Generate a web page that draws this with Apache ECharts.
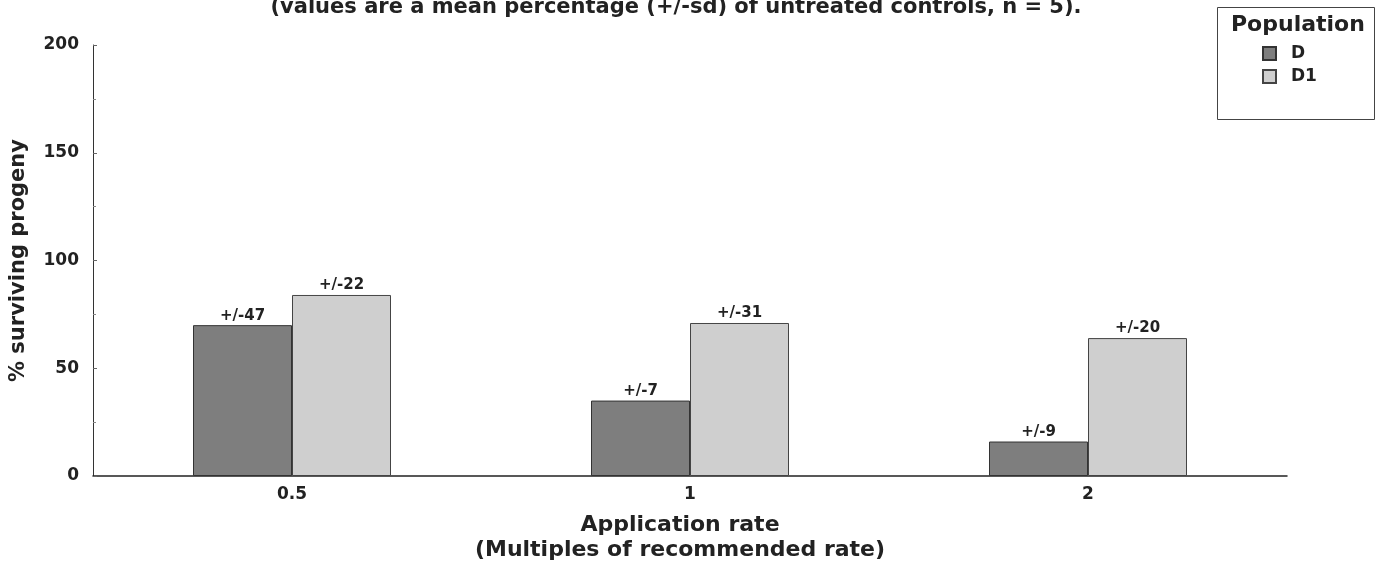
<!DOCTYPE html>
<html>
<head>
<meta charset="utf-8">
<script src="https://cdn.jsdelivr.net/npm/echarts@6/dist/echarts.min.js"></script>
<style>html,body{margin:0;padding:0;background:#fff;}#c{width:1385px;height:583px;}</style>
</head>
<body>
<div id="c"></div>
<script>
const categories = ['0.5', '1', '2'];
const seriesNames = ['D', 'D1'];
const valuesD = [70, 35, 16];
const valuesD1 = [84, 71, 64];
const sdD = ['+/-47', '+/-7', '+/-9'];
const sdD1 = ['+/-22', '+/-31', '+/-20'];
const yTicks = [0, 50, 100, 150, 200];

const FONT = '"DejaVu Sans", Verdana, sans-serif';
const chart = echarts.init(document.getElementById('c'), null, {renderer: 'canvas'});

function labelFor(arr) {
  return {
    show: true, position: 'top', distance: 2,
    formatter: p => arr[p.dataIndex],
    fontFamily: FONT, fontWeight: 'bold', fontSize: 15, color: '#222'
  };
}

chart.setOption({
  animation: false,
  backgroundColor: '#fff',
  title: {
    text: '(values are a mean percentage (+/-sd) of untreated controls, n = 5).',
    left: 676, textAlign: 'center', top: -3, padding: 0,
    textStyle: {fontFamily: FONT, fontWeight: 'bold', fontSize: 21, color: '#222'}
  },
  legend: {
    data: seriesNames,
    orient: 'vertical', left: 1262, top: 45, padding: 0,
    icon: 'rect',
    itemWidth: 13, itemHeight: 13, itemGap: 6,
    textStyle: {fontFamily: FONT, fontWeight: 'bold', fontSize: 17, color: '#222', padding: [0, 0, 0, 10]}
  },
  grid: {left: 93, right: 98, top: 45, bottom: 107, containLabel: false},
  xAxis: {
    type: 'category', data: categories,
    axisLine: {lineStyle: {color: '#222', width: 1.5}},
    axisTick: {show: false},
    axisLabel: {fontFamily: FONT, fontWeight: 'bold', fontSize: 17, color: '#222', margin: 10}
  },
  yAxis: {
    type: 'value', min: 0, max: 200, interval: 50,
    name: '% surviving progeny', nameLocation: 'middle', nameGap: 64, nameRotate: 90,
    nameTextStyle: {fontFamily: FONT, fontWeight: 'bold', fontSize: 21, color: '#222'},
    axisLine: {show: true, lineStyle: {color: '#333', width: 1}},
    axisTick: {show: true, inside: true, length: 4, lineStyle: {color: '#666'}},
    minorTick: {show: true, splitNumber: 2, length: 3, lineStyle: {color: '#888'}},
    splitLine: {show: false},
    axisLabel: {fontFamily: FONT, fontWeight: 'bold', fontSize: 17, color: '#222', margin: 14,
      formatter: v => yTicks.includes(v) ? String(v) : ''}
  },
  series: [
    {
      name: 'D', type: 'bar', data: valuesD, barWidth: 99, barGap: '0%',
      itemStyle: {color: '#7e7e7e', borderColor: '#333', borderWidth: 1},
      label: labelFor(sdD)
    },
    {
      name: 'D1', type: 'bar', data: valuesD1, barWidth: 99,
      itemStyle: {color: '#cfcfcf', borderColor: '#444', borderWidth: 1},
      label: labelFor(sdD1)
    }
  ],
  graphic: [
    {type: 'rect', left: 1215, top: 5, shape: {width: 157, height: 112},
     style: {fill: 'none', stroke: '#444', lineWidth: 1}},
    {type: 'text', left: 1231, top: 14,
     style: {text: 'Population', font: 'bold 22px ' + FONT, fill: '#222'}},
    {type: 'text', x: 680, y: 513,
     style: {text: 'Application rate\n(Multiples of recommended rate)', font: 'bold 22px ' + FONT,
       fill: '#222', align: 'center', lineHeight: 25}}
  ]
});
</script>
</body>
</html>
